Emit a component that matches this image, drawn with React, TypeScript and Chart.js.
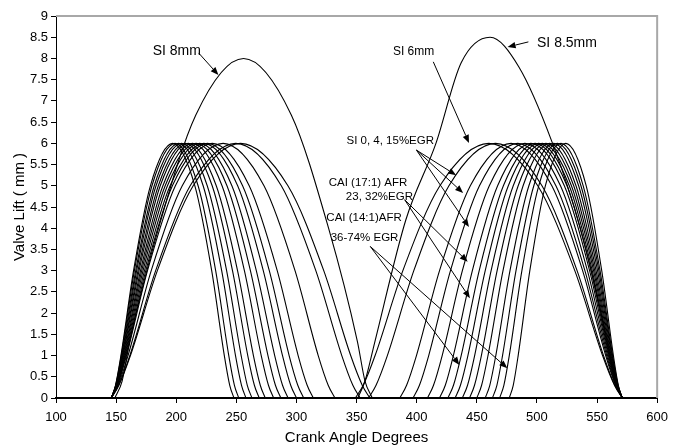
import React, { useEffect, useRef } from "react";
import { Chart, registerables } from "chart.js";

Chart.register(...registerables);

// Lift levels (mm) at which each 6 mm curve's crank angles were read
const liftLevels6 = [0, 0.3, 1, 3, 5, 6, 5, 3, 1, 0.3, 0];

// Exhaust valve curves (crank angle at each lift level)
const exhaustCurves: number[][] = [
  [146, 149.5, 154.0, 164.5, 178.5, 197.0, 215.5, 229.5, 240.0, 244.5, 248],
  [146, 149.6, 154.3, 165.2, 179.8, 199.0, 218.2, 232.8, 243.7, 248.4, 252],
  [146, 149.8, 154.7, 166.3, 181.7, 202.0, 222.4, 237.8, 249.3, 254.3, 258],
  [146, 149.9, 155.1, 167.1, 183.2, 204.5, 225.8, 241.9, 254.0, 259.1, 263],
  [146, 150.0, 155.5, 168.2, 185.1, 207.5, 229.9, 246.8, 259.5, 265.0, 269],
  [146, 150.2, 155.8, 169.1, 186.7, 210.0, 233.3, 251.0, 264.2, 269.9, 274],
  [146, 150.3, 156.3, 170.3, 188.9, 213.5, 238.1, 256.7, 270.7, 276.7, 281],
  [146, 150.5, 156.7, 171.3, 190.8, 216.5, 242.2, 261.7, 276.3, 282.5, 287],
  [146, 150.6, 157.2, 172.4, 192.7, 219.5, 246.3, 266.6, 281.9, 288.4, 293],
  [146, 150.8, 157.6, 173.6, 194.9, 223.0, 251.1, 272.4, 288.4, 295.2, 300],
  [146, 151.0, 158.1, 174.7, 196.8, 226.0, 255.2, 277.4, 293.9, 301.1, 306],
  [146, 151.2, 158.6, 176.1, 199.3, 230.0, 260.7, 284.0, 301.4, 308.9, 314],
  [146, 151.6, 159.9, 179.2, 205.0, 239.0, 273.0, 298.8, 318.1, 326.4, 332],
  [146, 152.1, 161.4, 182.9, 211.6, 249.5, 287.4, 316.1, 337.7, 346.9, 353],
  [146, 152.3, 161.9, 184.3, 214.1, 253.5, 292.9, 322.7, 345.1, 354.7, 361],
];

// Intake valve curves (crank angle at each lift level)
const intakeCurves: number[][] = [
  [349, 355.5, 365.4, 388.5, 419.3, 460.0, 500.7, 531.5, 554.6, 564.5, 571],
  [360, 366.2, 375.6, 397.6, 426.8, 465.5, 504.2, 533.4, 555.4, 564.8, 571],
  [386, 391.6, 399.8, 419.0, 444.6, 478.5, 512.4, 538.0, 557.2, 565.4, 571],
  [397, 402.3, 410.0, 428.1, 452.2, 484.0, 515.8, 539.9, 558.0, 565.7, 571],
  [409, 414.0, 421.2, 438.0, 460.4, 490.0, 519.6, 542.0, 558.8, 566.0, 571],
  [419, 423.8, 430.5, 446.3, 467.3, 495.0, 522.8, 543.8, 559.5, 566.3, 571],
  [426, 430.6, 437.0, 452.0, 472.1, 498.5, 525.0, 545.0, 560.0, 566.4, 571],
  [432, 436.4, 442.6, 457.0, 476.2, 501.5, 526.9, 546.0, 560.4, 566.6, 571],
  [438, 442.3, 448.2, 461.9, 480.3, 504.5, 528.7, 547.1, 560.8, 566.7, 571],
  [444, 448.1, 453.8, 466.9, 484.4, 507.5, 530.6, 548.1, 561.3, 566.9, 571],
  [450, 454.0, 459.3, 471.8, 488.5, 510.5, 532.5, 549.2, 561.7, 567.0, 571],
  [457, 460.8, 465.8, 477.6, 493.3, 514.0, 534.7, 550.4, 562.2, 567.2, 571],
  [463, 466.7, 471.4, 482.6, 497.4, 517.0, 536.6, 551.5, 562.6, 567.4, 571],
  [469, 472.5, 477.0, 487.5, 501.5, 520.0, 538.5, 552.5, 563.0, 567.5, 571],
  [477, 480.3, 484.4, 494.1, 507.0, 524.0, 541.0, 553.9, 563.6, 567.7, 571],
];

// SI 8mm exhaust curve
const si8Angles = [149, 155, 161.3, 185.3, 216.3, 256, 295.7, 326.7, 350.7, 357, 363];
const si8Lift = [0, 0.4, 1.33, 4, 6.67, 8, 6.67, 4, 1.33, 0.4, 0];

// SI 8.5mm intake curve
const si85Angles = [351, 357, 365, 391, 416, 437, 461, 485, 513, 536, 558, 565, 571];
const si85Lift = [0, 0.4, 1.3, 4.2, 6, 7.9, 8.5, 7.8, 6, 4, 1.4, 0.4, 0];

// Axis tick settings
const xMin = 100, xMax = 600, xStep = 50;
const yMin = 0, yMax = 9, yStep = 0.5;

// Annotation texts
const labelTexts = [
  "SI 8mm", "SI 8.5mm", "SI 6mm", "SI 0, 4, 15%EGR",
  "CAI (17:1) AFR", "23, 32%EGR", "CAI (14:1)AFR", "36-74% EGR",
];

const FONT = '"Liberation Sans", Arial, Helvetica, sans-serif';

// Annotation layout (data coordinates)
const labelPos: [number, number, number][] = [
  [200.5, 8.18, 14],
  [525, 8.36, 14],
  [397.4, 8.15, 12],
  [378, 6.06, 11.5],
  [359.5, 5.08, 11.5],
  [369, 4.74, 11.5],
  [356.2, 4.24, 11.5],
  [356.6, 3.77, 11.5],
];
const arrows: [number, number, number, number][] = [
  [218.6, 8.13, 235.1, 7.61],
  [492.9, 8.39, 475.6, 8.27],
  [413.8, 7.92, 443.5, 6.01],
  [399.8, 5.84, 432.8, 5.25],
  [399.8, 5.84, 438.6, 4.83],
  [399.8, 5.84, 443.5, 4.03],
  [390.0, 4.67, 442.4, 3.21],
  [390.0, 4.67, 444.3, 2.35],
  [361.4, 3.57, 435.5, 0.78],
  [361.4, 3.57, 475.4, 0.70],
];

const annotPlugin = {
  id: "annot",
  afterDatasetsDraw(chart: any) {
    const { ctx, chartArea: a, scales } = chart;
    const sx = scales.x, sy = scales.y;
    ctx.save();
    ctx.strokeStyle = "#a8a8a8";
    ctx.lineWidth = 2;
    ctx.beginPath();
    ctx.moveTo(a.left, a.top);
    ctx.lineTo(a.right, a.top);
    ctx.lineTo(a.right, a.bottom);
    ctx.stroke();

    ctx.fillStyle = "#000";
    ctx.textAlign = "center";
    ctx.textBaseline = "middle";
    labelTexts.forEach((t, i) => {
      const [x, y, s] = labelPos[i];
      ctx.font = `${s}px ${FONT}`;
      ctx.fillText(t, sx.getPixelForValue(x), sy.getPixelForValue(y));
    });

    ctx.strokeStyle = "#000";
    ctx.lineWidth = 1;
    arrows.forEach(([x0, y0, x1, y1]) => {
      const px0 = sx.getPixelForValue(x0), py0 = sy.getPixelForValue(y0);
      const px1 = sx.getPixelForValue(x1), py1 = sy.getPixelForValue(y1);
      const ang = Math.atan2(py1 - py0, px1 - px0);
      const L = 8, W = 3.2;
      const bx = px1 - L * Math.cos(ang), by = py1 - L * Math.sin(ang);
      ctx.beginPath();
      ctx.moveTo(px0, py0);
      ctx.lineTo(bx, by);
      ctx.stroke();
      ctx.beginPath();
      ctx.moveTo(px1, py1);
      ctx.lineTo(bx + W * Math.sin(ang), by - W * Math.cos(ang));
      ctx.lineTo(bx - W * Math.sin(ang), by + W * Math.cos(ang));
      ctx.closePath();
      ctx.fill();
    });
    ctx.restore();
  },
};

export default function App() {
  const ref = useRef<HTMLCanvasElement>(null);
  useEffect(() => {
    const canvas = ref.current;
    if (!canvas) return;
    const mk = (xs: number[], ys: number[]) => ({
      data: xs.map((x, i) => ({ x, y: ys[i] })),
      borderColor: "#000",
      borderWidth: 1.1,
      pointRadius: 0,
      fill: false,
      cubicInterpolationMode: "monotone" as const,
    });
    const datasets: any[] = [];
    exhaustCurves.forEach((c) => datasets.push(mk(c, liftLevels6)));
    intakeCurves.forEach((c) => datasets.push(mk(c, liftLevels6)));
    datasets.push(mk(si8Angles, si8Lift));
    datasets.push(mk(si85Angles, si85Lift));

    const chart = new Chart(canvas, {
      type: "line",
      data: { datasets },
      options: {
        animation: false,
        responsive: false,
        maintainAspectRatio: false,
        layout: { padding: { top: 16, right: 12, left: 0, bottom: 0 } },
        plugins: { legend: { display: false }, tooltip: { enabled: false } },
        scales: {
          x: {
            type: "linear",
            min: xMin,
            max: xMax,
            afterFit: (s: any) => { s.height = 49; },
            ticks: {
              stepSize: xStep,
              callback: (v: any) => String(v),
              font: { family: FONT, size: 13 },
              color: "#000",
              padding: 7,
              maxRotation: 0,
              autoSkip: false,
            },
            grid: { drawOnChartArea: false, drawTicks: true, tickLength: 5, color: "#000" },
            border: { display: true, color: "#000", width: 2 },
            title: {
              display: true,
              text: "Crank Angle Degrees",
              font: { family: FONT, size: 15 },
              color: "#000",
              padding: { top: 0, bottom: 0 },
            },
          },
          y: {
            type: "linear",
            min: yMin,
            max: yMax,
            afterFit: (s: any) => { s.width = 56; },
            ticks: {
              stepSize: yStep,
              callback: (v: any) => String(v),
              font: { family: FONT, size: 13 },
              color: "#000",
              padding: 3,
              autoSkip: false,
            },
            grid: { drawOnChartArea: false, drawTicks: true, tickLength: 5, color: "#000" },
            border: { display: true, color: "#000", width: 1 },
            title: {
              display: true,
              text: "Valve Lift ( mm )",
              font: { family: FONT, size: 15 },
              color: "#000",
              padding: { top: 11, bottom: 0 },
            },
          },
        },
      },
      plugins: [annotPlugin],
    });
    return () => chart.destroy();
  }, []);
  return (
    <div style={{ position: "absolute", left: 0, top: 0, width: 675, height: 447 }}>
      <canvas ref={ref} width={675} height={447} style={{ display: "block" }} />
    </div>
  );
}
